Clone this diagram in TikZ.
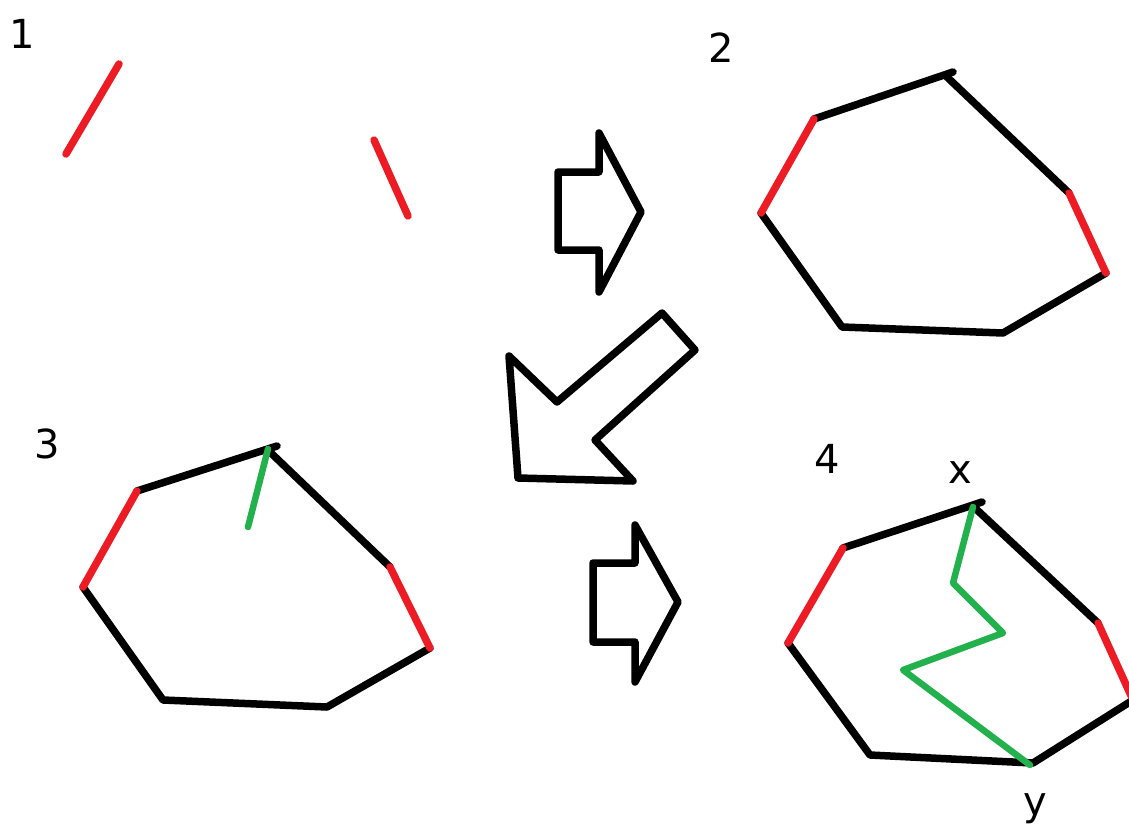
\documentclass[tikz,border=0pt]{standalone}
\usepackage{fontspec}
\setmainfont{DejaVu Sans}
\definecolor{pred}{RGB}{237,28,36}
\definecolor{pgreen}{RGB}{34,177,76}
\tikzset{
  edge/.style={line width=7.5pt, line cap=round, line join=round, black},
  redge/.style={edge, pred},
  gedge/.style={line width=6.5pt, line cap=round, line join=round, pgreen},
  arrowshape/.style={line width=7.5pt, line join=round, line cap=round, black},
  lbl/.style={anchor=base, inner sep=0pt, font=\fontsize{40}{44}\selectfont}
}
\begin{document}
\begin{tikzpicture}[x=1pt, y=-1pt]
\clip (0,0) rectangle (1129,827);
\useasboundingbox (0,0) rectangle (1129,827);

% step labels
\node[lbl] (n1) at (22,48) {1};
\node[lbl] (n2) at (721,62) {2};
\node[lbl] (n3) at (47,458) {3};
\node[lbl] (n4) at (827,473) {4};
\node[lbl] (lx) at (960,483) {x};
\node[lbl] (ly) at (1035,815) {y};

% step 1: two isolated red segments
\draw[redge] (66,154) -- (119,64);
\draw[redge] (374,140) -- (408,216);

% step 2: polygon closing the red segments
\draw[edge] (814,119) -- (953,72);
\draw[edge] (947,77) -- (1069,193);
\draw[edge] (1106,273) -- (1003,333) -- (842,327) -- (761,213);
\draw[redge] (761,213) -- (814,119);
\draw[redge] (1069,193) -- (1106,273);

% step 3: same polygon with a green cut starting at the top vertex
\draw[edge] (137,491) -- (277,446);
\draw[edge] (271,453) -- (390,567);
\draw[edge] (430,648) -- (327,707) -- (163,700) -- (83,587);
\draw[redge] (83,587) -- (137,491);
\draw[redge] (390,567) -- (430,648);
\draw[gedge] (268,449) -- (248,527);

% step 4: polygon with the full green path from x to y
\draw[edge] (843,548) -- (982,502);
\draw[edge] (976,509) -- (1098,623);
\draw[edge] (1133,700) -- (1033,763) -- (870,755) -- (788,643);
\draw[redge] (788,643) -- (843,548);
\draw[redge] (1098,623) -- (1133,700);
\draw[gedge] (973,507) -- (953,583) -- (1003,633) -- (903,670) -- (1030,765);

% block arrows between the steps
\draw[arrowshape] (558,172) -- (599,172) -- (599,133) -- (641,212) -- (599,292) -- (599,250) -- (558,250) -- cycle;
\draw[arrowshape] (662,313) -- (695,350) -- (595,440) -- (633,481) -- (518,478) -- (509,356) -- (557,402) -- cycle;
\draw[arrowshape] (593,563) -- (635,563) -- (635,525) -- (678,602) -- (635,682) -- (635,642) -- (593,642) -- cycle;
\end{tikzpicture}
\end{document}
